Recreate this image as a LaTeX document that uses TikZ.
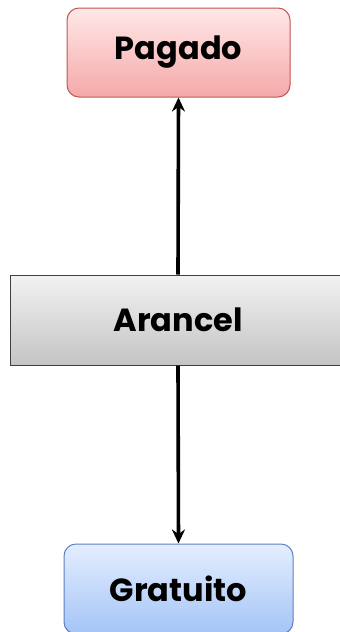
\documentclass[tikz,border=0pt]{standalone}
\usepackage{fontspec}
\setmainfont{Poppins}
\usetikzlibrary{arrows.meta}

\definecolor{rosaArriba}{RGB}{255,232,232}
\definecolor{rosaAbajo}{RGB}{245,168,168}
\definecolor{rosaBorde}{RGB}{196,84,84}
\definecolor{azulArriba}{RGB}{228,238,255}
\definecolor{azulAbajo}{RGB}{164,196,246}
\definecolor{azulBorde}{RGB}{92,128,196}
\definecolor{grisArriba}{RGB}{242,242,242}
\definecolor{grisAbajo}{RGB}{196,196,196}

\tikzset{
  caja/.style={inner sep=0pt, font=\fontsize{32}{36}\selectfont\bfseries},
  flecha/.style={line width=3.6pt, -{Stealth[length=14pt,width=13pt]}}
}

\begin{document}
\begin{tikzpicture}[x=1pt,y=-1pt]
    \useasboundingbox (0,0) rectangle (340,632);
    % cajas de arriba y abajo:
    \node[caja, draw=rosaBorde, line width=1pt, rounded corners=12pt,
          top color=rosaArriba, bottom color=rosaAbajo,
          minimum width=223pt, minimum height=89pt] (pagado) at (178.5,52.5) {Pagado};
    \node[caja, draw=black!75, line width=1pt,
          top color=grisArriba, bottom color=grisAbajo,
          minimum width=336pt, minimum height=90pt] (arancel) at (178,320) {Arancel};
    \node[caja, draw=azulBorde, line width=1pt, rounded corners=12pt,
          top color=azulArriba, bottom color=azulAbajo,
          minimum width=229pt, minimum height=90pt] (gratuito) at (178.5,589) {Gratuito};
    % flechas:
    \draw[flecha] (arancel.north) -- (pagado.south);
    \draw[flecha] (arancel.south) -- (gratuito.north);
\end{tikzpicture}
\end{document}
